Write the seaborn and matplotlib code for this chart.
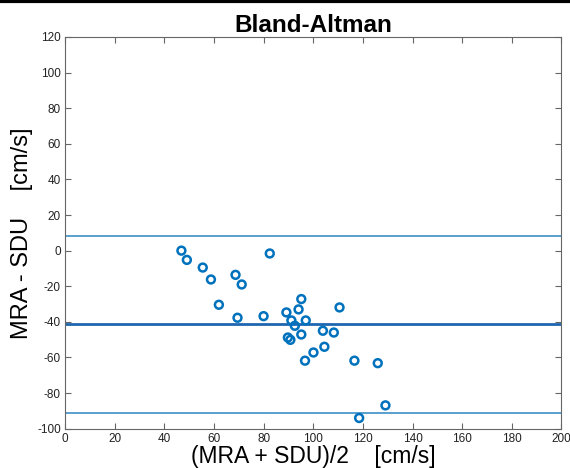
import numpy as np
import pandas as pd
import matplotlib
matplotlib.use("Agg")
import matplotlib.pyplot as plt
import seaborn as sns

# mean of the two methods (x) and their difference (y)
avg = [46.9, 49.1, 55.5, 58.8, 68.7, 71.2, 62.0, 69.5, 82.5, 80.0,
       89.2, 95.2, 94.1, 91.2, 97.0, 92.6, 95.2, 89.8, 90.8, 103.9,
       108.3, 110.6, 104.5, 100.1, 96.7, 116.6, 126.0, 129.1, 118.5]
diff = [0.0, -5.2, -9.5, -16.2, -13.6, -19.0, -30.4, -37.7, -1.6, -36.8,
        -34.7, -27.2, -33.0, -39.2, -39.2, -42.2, -47.1, -48.8, -50.1, -45.0,
        -46.0, -31.9, -54.0, -57.2, -61.8, -61.8, -63.2, -86.9, -94.0]
mean_diff = -41.3
upper_loa = 8.5
lower_loa = -91.0

x_ticks = list(range(0, 201, 20))
y_ticks = list(range(-100, 121, 20))

df = pd.DataFrame({"avg": avg, "diff": diff})

# matlab-like box with inward ticks
sns.set_style("ticks", {"xtick.direction": "in", "ytick.direction": "in",
                        "xtick.top": True, "ytick.right": True})
plt.rcParams["font.family"] = ["Liberation Sans", "DejaVu Sans"]
plt.rcParams["axes.unicode_minus"] = False
plt.rcParams["text.color"] = "black"
plt.rcParams["axes.labelcolor"] = "black"

fig = plt.figure(figsize=(5.7, 4.68), dpi=100)
ax = fig.add_axes([0.114, 0.084, 0.871, 0.837])

blue = "#0072BD"
ax.axhline(upper_loa, color="#3d8fc6", lw=1.2, zorder=1)
ax.axhline(lower_loa, color="#3d8fc6", lw=1.2, zorder=1)
ax.axhline(mean_diff, color="#1f66b0", lw=2.0, zorder=1)

sns.scatterplot(data=df, x="avg", y="diff", ax=ax, s=32, marker="o",
                facecolor="none", edgecolor=blue, linewidth=1.8, zorder=3)

ax.set_xlim(0, 200)
ax.set_ylim(-100, 120)
ax.set_xticks(x_ticks)
ax.set_yticks(y_ticks)
ax.tick_params(direction="in", length=4, width=0.8, color="#666666",
               labelsize=8.5, labelcolor="#222222", top=True, right=True,
               bottom=True, left=True, pad=3)
for sp in ax.spines.values():
    sp.set_visible(True)
    sp.set_color("#666666")
    sp.set_linewidth(0.8)

ax.set_xlabel("(MRA + SDU)/2    [cm/s]", fontsize=16.5, va="top")
ax.xaxis.set_label_coords(0.5, -0.041)
ax.set_ylabel("MRA - SDU    [cm/s]", fontsize=17)
ax.yaxis.set_label_coords(-0.064, 0.5)
ax.set_title("Bland-Altman", fontsize=17.5, fontweight="bold", pad=2)

# dark band along the top edge of the image
fig.add_artist(plt.Line2D([0, 1], [0.997, 0.997], color="black", lw=3,
                          transform=fig.transFigure))

fig.savefig("out.png", dpi=100)
